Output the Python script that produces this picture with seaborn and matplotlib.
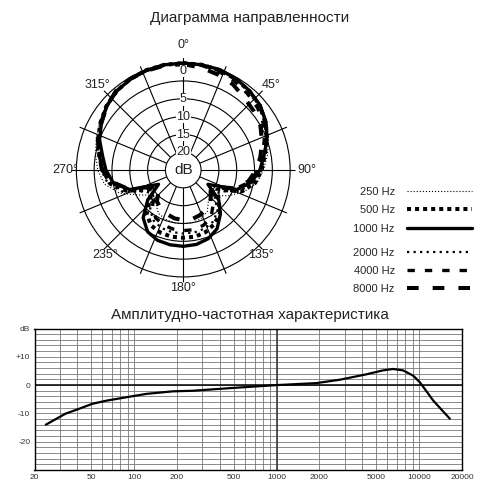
import numpy as np
import matplotlib.pyplot as plt
import seaborn as sns

sns.set_theme(style='white')
plt.rcParams['font.family'] = ['Liberation Sans', 'DejaVu Sans']
plt.rcParams['lines.scale_dashes'] = False

# Диаграмма направленности: уровень (дБ) через каждые 10 градусов
angles = np.arange(0, 360, 10)
db_250 = [0, 0, 0, -0.3, -0.8, -1.5, -2.8, -4.5, -6, -7.5, -9, -12, -15.5, -19, -19, -16.5, -15.5, -15,
          -15, -15, -15.3, -16, -18, -19, -16, -11, -7.5, -6, -5, -4, -3, -1.8, -1, -0.5, -0.2, 0]
db_500 = [0, 0, -0.2, -0.5, -1.1, -2, -3.3, -5, -6.8, -8, -9.5, -12.5, -19, -17, -14, -12.5, -11.5, -11,
          -11, -11, -11.3, -12, -14, -18, -19, -13, -9, -7.5, -6.2, -4.6, -3.2, -1.9, -1, -0.4, -0.1, 0]
db_1000 = [0, 0, 0, -0.4, -1, -1.8, -3.2, -5, -7, -8.5, -10.5, -14, -22, -17, -13.8, -11, -9.5, -8.8,
           -8.6, -8.7, -9, -10, -12.5, -17, -22, -14, -10, -8.3, -7, -5, -3.5, -2, -1, -0.5, -0.2, 0]
db_2000 = [0, 0, -0.1, -0.5, -1.2, -2.2, -3.5, -5.2, -6.8, -8, -9.8, -13, -18, -18.5, -15, -13.3, -12.5, -12.2,
           -12.2, -12.3, -12.6, -13.5, -15.5, -19, -18, -12, -8.5, -7, -5.8, -4.4, -3.1, -1.8, -0.9, -0.4, -0.1, 0]
db_4000 = [0, -0.2, -0.6, -1.2, -2, -2.8, -4, -5.8, -7.5, -9, -11, -14.5, -20, -19.5, -17, -14.5, -13.5, -13,
           -13, -13.2, -13.6, -14.5, -16.5, -19.5, -20, -13.5, -9.5, -7.5, -6, -4.6, -3.3, -2, -1, -0.4, -0.1, 0]
db_8000 = [-0.3, -0.8, -1.5, -2.2, -3.4, -4.2, -5, -6.5, -8, -9.5, -11.5, -15, -21, -20, -18, -17.2, -16.5, -16,
           -16, -16.2, -16.8, -17.5, -18.5, -21, -21, -14, -10, -7.2, -6, -4.5, -3.5, -2, -0.8, -0.4, -0.3, -0.2]
band_labels = ['250 Hz', '500 Hz', '1000 Hz', '2000 Hz', '4000 Hz', '8000 Hz']
ring_labels = ['0', '5', '10', '15', '20']
angle_labels = ['0°', '45°', '90°', '135°', '180°', '235°', '270°', '315°']

# Амплитудно-частотная характеристика
freq = [24, 33, 41, 51, 64, 88, 122, 187, 258, 494, 1000, 1900, 2780, 4260, 5580, 6560, 7720, 9110,
        10160, 12580, 16440]
resp = [-14, -10.1, -8.4, -6.6, -5.5, -4.3, -3.1, -2.2, -2.0, -1.0, 0, 0.7, 1.9, 3.8, 5.2, 5.7, 5.2, 3.3,
        0.9, -5.5, -11.9]
freq_ticks = [20, 50, 100, 200, 500, 1000, 2000, 5000, 10000, 20000]

fig = plt.figure(figsize=(5, 5), dpi=100)

# --- полярная диаграмма
ax = fig.add_axes([0.142, 0.4354, 0.449, 0.449], projection='polar')
ax.set_theta_zero_location('N')
ax.set_theta_direction(-1)

styles = [(0.8, (0, (0.8, 1.4))),
          (2.9, (0, (2.9, 2.9))),
          (2.4, '-'),
          (1.6, (0, (1.6, 3.1))),
          (2.4, (0, (5.3, 7.2))),
          (2.9, (0, (8.4, 10.1)))]
series = [db_250, db_500, db_1000, db_2000, db_4000, db_8000]
for lab, vals, (lw, ls) in zip(band_labels, series, styles):
    th = np.deg2rad(np.append(angles, 360))
    r = np.append(vals, vals[0]) + 30
    sns.lineplot(x=th, y=r, ax=ax, sort=False, estimator=None, color='black',
                 linewidth=lw, linestyle=ls, label=lab, legend=False)

ax.set_rlim(5, 31.5)
ax.set_rorigin(0)
ax.set_yticks([10, 15, 20, 25, 30], labels=[''] * 5)
ax.set_xticks(np.deg2rad(np.arange(0, 360, 22.5)), labels=[''] * 16)
ax.grid(True, color='black', linewidth=0.8, linestyle='-')
ax.spines['polar'].set_visible(False)
ax.spines['inner'].set_visible(True)
ax.spines['inner'].set_color('black')
ax.spines['inner'].set_linewidth(0.8)
ax.set_xlabel('')
ax.set_ylabel('')

ax.text(0.5, 0.5, 'dB', transform=ax.transAxes, ha='center', va='center', fontsize=11, color='#222')
for lab, rv in zip(ring_labels, [27.8, 19.8, 14.9, 9.8, 5.0]):
    ax.text(0, rv, lab, ha='center', va='center', fontsize=9, color='#222',
            bbox=dict(fc='white', ec='none', pad=0.2))
for lab, a, rv in zip(angle_labels, [0, 46, 90, 137.5, 180, 222.5, 270, 314.5],
                      [35, 34.4, 34.7, 32.3, 33.2, 32.3, 33.2, 33.9]):
    ax.text(np.deg2rad(a), rv, lab, ha='center', va='center', fontsize=9, color='#222')

fig.text(0.5, 0.964, 'Диаграмма направленности', ha='center', va='center', fontsize=11, color='#222')

handles = ax.get_lines()
leg_kw = dict(loc='upper right', markerfirst=False, frameon=False, fontsize=8, handlelength=5.85,
              handletextpad=1.1, labelspacing=0.75, borderpad=0, borderaxespad=0)
fig.legend(handles[:3], band_labels[:3], bbox_to_anchor=(0.944, 0.626), **leg_kw)
fig.legend(handles[3:6], band_labels[3:], bbox_to_anchor=(0.944, 0.505), **leg_kw)

# --- АЧХ
ax2 = fig.add_axes([0.069, 0.06, 0.855, 0.283])
sns.lineplot(x=freq, y=resp, ax=ax2, color='black', linewidth=1.6, estimator=None)
ax2.set_xscale('log')
ax2.set_xlim(20, 20000)
ax2.set_ylim(-30, 20)
minor_f = [m * 10 ** e for e in range(1, 5) for m in range(1, 10)
           if 20 < m * 10 ** e < 20000 and m * 10 ** e not in freq_ticks]
ax2.set_xticks(freq_ticks, labels=[str(f) for f in freq_ticks])
ax2.set_xticks(minor_f, minor=True)
ax2.set_yticks([-20, -10, 0, 10, 20], labels=['-20', '-10', '0', '+10', 'dB'])
ax2.set_yticks(np.arange(-30, 21, 2), minor=True)
ax2.set_axisbelow(True)
ax2.grid(True, which='both', color='#777777', linewidth=0.6)
ax2.axhline(0, color='black', linewidth=1.1, zorder=1.5)
ax2.axvline(1000, color='#333333', linewidth=1.1, zorder=1.5)
ax2.tick_params(which='both', length=0, labelsize=6, labelcolor='#333333', pad=3)
for s in ax2.spines.values():
    s.set_color('black')
    s.set_linewidth(1)
ax2.set_xlabel('')
ax2.set_ylabel('')

fig.text(0.5, 0.37, 'Амплитудно-частотная характеристика', ha='center', va='center', fontsize=11,
         color='#222')

fig.savefig('out.png', dpi=100)
